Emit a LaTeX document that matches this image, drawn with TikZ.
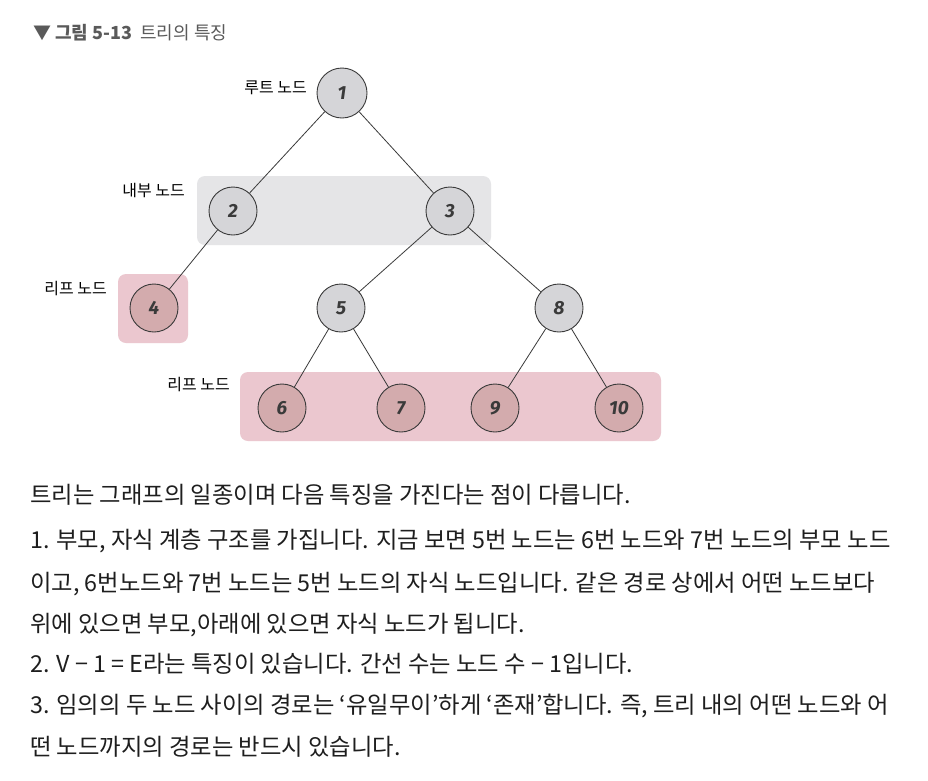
\documentclass[tikz,border=0pt]{standalone}
\usepackage{fontspec}
\setmainfont{Noto Sans CJK KR}
\newfontfamily\kr{Noto Sans CJK KR}
\newfontfamily\numfont{Fira Sans}
\definecolor{grayfill}{HTML}{D5D5D8}
\definecolor{graybox}{HTML}{E5E5E7}
\definecolor{pinkbox}{HTML}{EBC7CF}
\definecolor{pinkfill}{HTML}{D3ABAD}
\definecolor{edgecol}{HTML}{3A3A3A}
\definecolor{titlecol}{HTML}{5A5A5A}
\definecolor{bodycol}{HTML}{1E1E1E}
\tikzset{
  tnode/.style={circle, draw=edgecol, line width=0.9pt, fill=grayfill, minimum size=48pt, inner sep=0pt, font=\numfont\bfseries\itshape\fontsize{19}{19}\selectfont, text=edgecol},
  leaf/.style={tnode, fill=pinkfill},
  tedge/.style={draw=edgecol, line width=0.8pt},
  lbl/.style={font=\kr\fontsize{16}{16}\selectfont, text=black, anchor=east, inner sep=0pt},
  body/.style={font=\kr\fontsize{23.3}{23.3}\selectfont, text=bodycol, anchor=base west, inner sep=0pt}
}
\begin{document}
\begin{tikzpicture}[x=1pt,y=-1pt]
\useasboundingbox[fill=white] (0,0) rectangle (928,780);
% backgrounds
\fill[graybox, rounded corners=8pt] (197,176) rectangle (491,245);
\fill[pinkbox, rounded corners=8pt] (118,274) rectangle (188,343);
\fill[pinkbox, rounded corners=8pt] (240,372) rectangle (661,441);
% title
\node[anchor=base west, inner sep=0pt, font=\kr\fontsize{18}{18}\selectfont, text=titlecol] (title) at (33,39) {▼ \textbf{그림 5-13}\ \ 트리의 특징};
% tree nodes
\node[tnode, minimum size=50pt] (n1) at (342,93) {1};
\node[tnode] (n2) at (233,211) {2};
\node[tnode] (n3) at (450,211) {3};
\node[leaf] (n4) at (154,308) {4};
\node[tnode] (n5) at (341,308) {5};
\node[tnode] (n8) at (559,308) {8};
\node[leaf] (n6) at (282,408) {6};
\node[leaf] (n7) at (401,408) {7};
\node[leaf] (n9) at (495,408) {9};
\node[leaf] (n10) at (619,408) {10};
% edges
\draw[tedge] (n1) -- (n2);
\draw[tedge] (n1) -- (n3);
\draw[tedge] (n2) -- (n4);
\draw[tedge] (n3) -- (n5);
\draw[tedge] (n3) -- (n8);
\draw[tedge] (n5) -- (n6);
\draw[tedge] (n5) -- (n7);
\draw[tedge] (n8) -- (n9);
\draw[tedge] (n8) -- (n10);
% labels
\node[lbl] (l1) at (307,88) {루트 노드};
\node[lbl] (l2) at (185,191) {내부 노드};
\node[lbl] (l3) at (107,289) {리프 노드};
\node[lbl] (l4) at (230,385) {리프 노드};
% body text
\node[body] (t1) at (30,503) {트리는 그래프의 일종이며 다음 특징을 가진다는 점이 다릅니다.};
\node[body] (t2) at (30,548) {1. 부모, 자식 계층 구조를 가집니다. 지금 보면 5번 노드는 6번 노드와 7번 노드의 부모 노드};
\node[body] (t3) at (30,591) {이고, 6번노드와 7번 노드는 5번 노드의 자식 노드입니다. 같은 경로 상에서 어떤 노드보다};
\node[body] (t4) at (30,632) {위에 있으면 부모,아래에 있으면 자식 노드가 됩니다.};
\node[body] (t5) at (30,672) {2. V − 1 = E라는 특징이 있습니다. 간선 수는 노드 수 − 1입니다.};
\node[body] (t6) at (30,713) {3. 임의의 두 노드 사이의 경로는 ‘유일무이’하게 ‘존재’합니다. 즉, 트리 내의 어떤 노드와 어};
\node[body] (t7) at (30,755) {떤 노드까지의 경로는 반드시 있습니다.};
\end{tikzpicture}
\end{document}
